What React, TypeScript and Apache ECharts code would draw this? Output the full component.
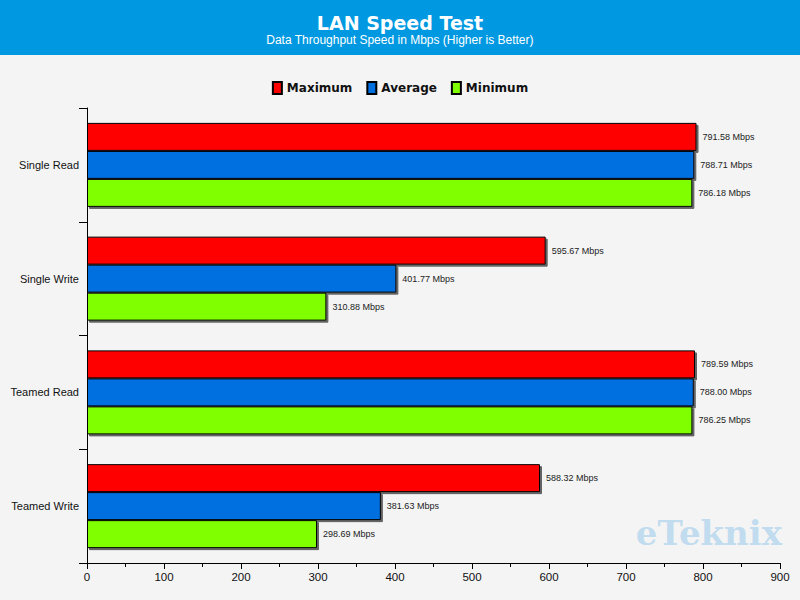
import React, { useEffect, useRef } from "react";
import * as echarts from "echarts";

const categories = ["Single Read", "Single Write", "Teamed Read", "Teamed Write"];
const maximum = [791.58, 595.67, 789.59, 588.32];
const average = [788.71, 401.77, 788.0, 381.63];
const minimum = [786.18, 310.88, 786.25, 298.69];
const xTicks = { min: 0, max: 900, interval: 100 };

const FONT = "'DejaVu Sans', sans-serif";
const NARROW = "'Liberation Sans', Arial, sans-serif";

export default function App() {
  const ref = useRef<HTMLDivElement>(null);
  useEffect(() => {
    if (!ref.current) return;
    const chart = echarts.init(ref.current, null, { renderer: "svg" });
    const mk = (name: string, data: number[], color: string) => ({
      name,
      type: "bar",
      data,
      barWidth: 28,
      barGap: "0%",
      itemStyle: {
        color,
        borderColor: "#000",
        borderWidth: 1,
        shadowColor: "rgba(60,60,60,0.8)",
        shadowBlur: 0,
        shadowOffsetX: 2,
        shadowOffsetY: 2,
      },
      label: {
        show: true,
        position: "right",
        distance: 6,
        color: "#222",
        fontSize: 9,
        fontFamily: NARROW,
        formatter: (p: any) => `${Number(p.value).toFixed(2)} Mbps`,
      },
    });
    chart.setOption({
      animation: false,
      backgroundColor: "#f4f4f4",
      graphic: [
        { type: "rect", left: 0, top: 0, shape: { width: 800, height: 55 }, style: { fill: "#0099e1" }, z: -1 },
        {
          type: "text",
          left: "center",
          top: 13,
          style: { text: "LAN Speed Test", fill: "#fff", font: `bold 19px ${FONT}` },
        },
        {
          type: "text",
          left: "center",
          top: 34,
          style: { text: "Data Throughput Speed in Mbps (Higher is Better)", fill: "#fff", font: `12px ${NARROW}` },
        },
        {
          type: "text",
          right: 18,
          top: 516,
          style: {
            text: "eTeknix",
            fill: "rgba(150,200,235,0.55)",
            font: "bold 34px 'DejaVu Serif', serif",
          },
        },
      ],
      legend: {
        top: 76,
        left: "center",
        itemWidth: 9,
        itemHeight: 12,
        itemGap: 14,
        icon: "rect",
        textStyle: { fontWeight: "bold", fontSize: 12, color: "#111", fontFamily: FONT },
        data: ["Maximum", "Average", "Minimum"],
      },
      grid: { left: 87, right: 20, top: 108, bottom: 37, containLabel: false },
      xAxis: {
        type: "value",
        min: xTicks.min,
        max: xTicks.max,
        interval: xTicks.interval,
        axisLine: { show: true, lineStyle: { color: "#000" } },
        axisTick: { show: true, length: 6, lineStyle: { color: "#000" } },
        minorTick: { show: true, splitNumber: 2, length: 4, lineStyle: { color: "#000" } },
        splitLine: { show: false },
        axisLabel: { color: "#111", fontSize: 11.5, fontFamily: NARROW, margin: 8 },
      },
      yAxis: {
        type: "category",
        data: categories,
        inverse: true,
        axisLine: { show: true, lineStyle: { color: "#000" } },
        axisTick: { show: true, length: 8, interval: 0, lineStyle: { color: "#000" } },
        axisLabel: { color: "#111", fontSize: 11, fontFamily: NARROW, margin: 8 },
      },
      series: [mk("Maximum", maximum, "#ff0000"), mk("Average", average, "#006fe0"), mk("Minimum", minimum, "#80ff00")],
    });
    return () => chart.dispose();
  }, []);
  return <div ref={ref} style={{ position: "fixed", left: 0, top: 0, width: 800, height: 600 }} />;
}
